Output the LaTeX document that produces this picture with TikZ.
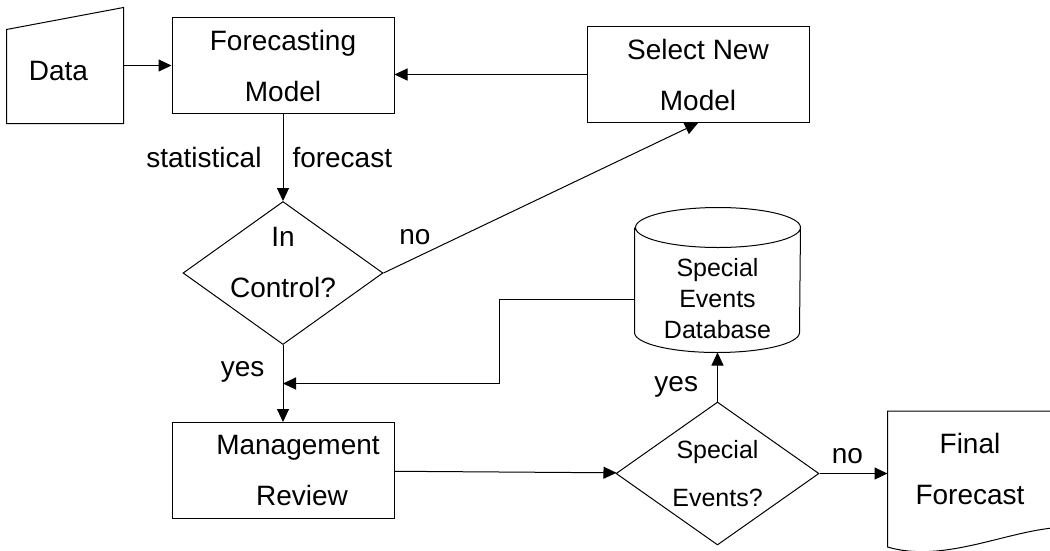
\documentclass[tikz,border=0pt]{standalone}
\usepackage{fontspec}
\setmainfont{Liberation Sans}
\usetikzlibrary{arrows.meta,calc,positioning,shapes.geometric}
\newcommand{\flowfont}{\fontsize{28}{51}\selectfont}
\newcommand{\eventfont}{\fontsize{25}{48}\selectfont}
\newcommand{\dbfont}{\fontsize{25}{31}\selectfont}
\tikzset{process/.style={draw, align=center, minimum width=222pt, minimum height=96pt, inner sep=0pt, font=\flowfont}}
\tikzset{decision/.style={diamond, draw, aspect=1.4, inner sep=-10pt, align=center, font=\flowfont}}
\tikzset{shapeonly/.style={align=center, inner sep=0pt, font=\flowfont}}
\tikzset{edgelabel/.style={font=\flowfont, inner sep=9pt}}
\tikzstyle{arrow} = [-{Triangle[length=13pt, width=12pt]}]

\begin{document}
\begin{tikzpicture}[line width=1pt]
	\useasboundingbox (0,0) rectangle (1050pt,-550pt);
	% Nodes
	\node (data) [shapeonly, minimum width=116pt, minimum height=115pt] at (65pt,-65.5pt) {\mbox{}\\[-20pt]\hspace*{-13pt}Data};
	\node (fmodel) [process, right=48pt of data] {Forecasting\\Model};
	\node (select) [process, right=192pt of fmodel, yshift=-9pt] {Select New\\Model};
	\node (ctrl) [decision, minimum width=200pt, minimum height=143pt, below=87pt of fmodel] {In\\Control?\\[-29pt]\mbox{}};
	\node (mgmt) [process, below=77pt of ctrl] {\hspace*{30pt}Management\\\hspace*{38pt}Review};
	\node (special) [decision, font=\eventfont, minimum width=203pt, minimum height=143pt, right=221pt of mgmt, yshift=-3pt] {Special\\Events?};
	\node (db) [shapeonly, font=\dbfont, minimum width=165pt, minimum height=106pt, above=49pt of special] {Special\\Events\\Database};
	\node (final) [shapeonly, minimum width=164pt, minimum height=135pt, right=68pt of special, yshift=-5.5pt] {Final\\Forecast\\[-31pt]\mbox{}};

	% Outlines
	\draw (data.south west) -- ([yshift=-22pt]data.north west) -- (data.north east) -- (data.south east) -- cycle;
	\draw ([yshift=18pt]db.north west) -- ([yshift=20pt]db.south west)
		arc[start angle=180, end angle=360, x radius=82.5pt, y radius=20pt]
		-- ([yshift=18pt]db.north east)
		arc[start angle=0, end angle=360, x radius=82.5pt, y radius=20pt];
	\draw (final.north east) -- (final.north west) -- (final.south west)
		.. controls +(54pt,-16pt) and +(-50pt,-5pt) .. ([yshift=19pt]final.south east);

	% Connectors
	\coordinate (merge) at ($(ctrl.south)!0.5!(mgmt.north)$);
	\coordinate (bend) at ($(merge)+(216pt,0)$);
	\draw [arrow] (data) -- (fmodel);
	\draw [arrow] (select.west) -- (select.west -| fmodel.east);
	\draw [arrow] (fmodel) -- node[edgelabel, left=12pt] {statistical} node[edgelabel, right] {forecast} (ctrl);
	\draw [arrow] (ctrl.east) -- node[edgelabel, pos=0.1, above=4pt] {no} (select.south);
	\draw [arrow] (ctrl) -- node[edgelabel, pos=0.35, left=9pt] {yes} (mgmt);
	\draw [arrow] (db.west) -| (bend) -- (merge);
	\draw [arrow] (mgmt) -- (special);
	\draw [arrow] (special) -- node[edgelabel, pos=0.29, left=10pt] {yes} (db);
	\draw [arrow] (special) -- node[edgelabel, pos=0.41, above] {no} (special.east -| final.west);

\end{tikzpicture}
\end{document}
